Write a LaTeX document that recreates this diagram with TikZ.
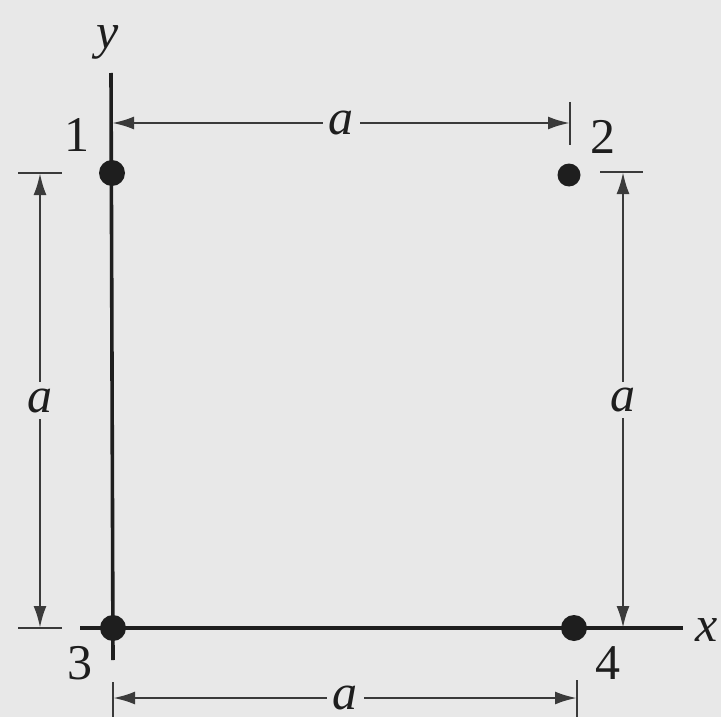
\documentclass[tikz,border=0pt]{standalone}
\usepackage{fontspec}
\setmainfont{Liberation Serif}
\usetikzlibrary{arrows.meta}
\definecolor{bg}{HTML}{E8E8E8}
\definecolor{ink}{HTML}{1E1E1E}
\definecolor{dimc}{HTML}{3A3A3A}
\begin{document}
\begin{tikzpicture}[x=1pt,y=-1pt,
  axis/.style={draw=ink,line width=3.6pt},
  dimline/.style={draw=dimc,line width=2.6pt,{Latex[length=22pt,width=13pt]}-{Latex[length=22pt,width=13pt]}},
  tickl/.style={draw=dimc,line width=2.6pt},
  dot/.style={circle,fill=ink,inner sep=0pt,minimum size=26pt},
  lbl/.style={font=\fontsize{50}{60}\selectfont,text=ink,inner sep=2pt},
  dimlbl/.style={font=\fontsize{50}{60}\selectfont\itshape,text=ink,fill=bg,inner sep=6pt}]
\fill[bg] (0,0) rectangle (721,717);
\useasboundingbox (0,0) rectangle (721,717);
% axes
\coordinate (ytop) at (111,73);
\coordinate (ybot) at (113,660);
\coordinate (xl) at (80,628);
\coordinate (xr) at (683,628);
\draw[axis] (ytop) -- (ybot);
\draw[axis] (xl) -- (xr);
\node[lbl,font=\fontsize{50}{60}\selectfont\itshape] (ylab) at (108,42) {y};
\node[lbl,font=\fontsize{50}{60}\selectfont\itshape] (xlab) at (707,630) {x};
% points
\node[dot] (p1) at (112,173) {};
\node[dot,minimum size=23pt] (p2) at (569,175) {};
\node[dot] (p3) at (113,628) {};
\node[dot] (p4) at (574,628) {};
\node[lbl] (l1) at (77,135) {1};
\node[lbl] (l2) at (603,137) {2};
\node[lbl] (l3) at (80,663) {3};
\node[lbl] (l4) at (608,663) {4};
% top dimension
\coordinate (ta) at (112,123);
\coordinate (tb) at (570,123);
\draw[tickl] (570,102) -- (570,145);
\draw[dimline] (ta) -- node[dimlbl] (ta1) {a} (tb);
% left dimension
\coordinate (la) at (40,173);
\coordinate (lb) at (40,628);
\draw[tickl] (18,173) -- (62,173);
\draw[tickl] (18,628) -- (62,628);
\draw[dimline] (la) -- node[dimlbl] (la1) {a} (lb);
% right dimension
\coordinate (ra) at (623,172);
\coordinate (rb) at (623,628);
\draw[tickl] (600,172) -- (643,172);
\draw[dimline] (ra) -- node[dimlbl] (ra1) {a} (rb);
% bottom dimension
\coordinate (ba) at (113,698);
\coordinate (bb) at (577,698);
\draw[tickl] (113,682) -- (113,717);
\draw[tickl] (577,680) -- (577,717);
\draw[dimline] (ba) -- node[dimlbl] (ba1) {a} (bb);
\end{tikzpicture}
\end{document}
